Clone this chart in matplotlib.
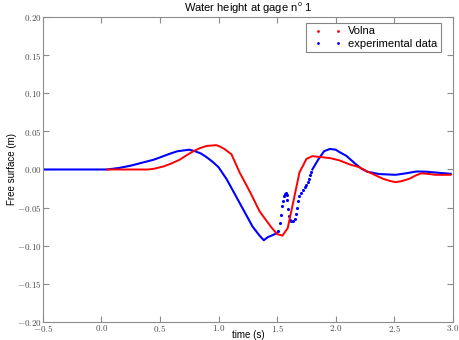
import matplotlib
matplotlib.use("Agg")
import matplotlib.pyplot as plt
from matplotlib.lines import Line2D
from matplotlib.legend_handler import HandlerLine2D
from matplotlib.ticker import FuncFormatter

plt.rcParams['font.family'] = ['Liberation Sans', 'DejaVu Sans']
plt.rcParams['mathtext.fontset'] = 'cm'

# Volna model (red)
volna_t = [0.05, 0.40, 0.45, 0.53, 0.60, 0.67, 0.73, 0.785, 0.84, 0.90, 0.98, 1.00, 1.05, 1.11,
           1.18, 1.27, 1.35, 1.45, 1.50, 1.545, 1.59, 1.63, 1.69, 1.75, 1.80, 1.95, 2.03, 2.12,
           2.20, 2.26, 2.33, 2.40, 2.46, 2.51, 2.57, 2.63, 2.68, 2.73, 2.80, 2.85, 2.98]
volna_h = [0.0, 0.0, 0.001, 0.004, 0.008, 0.013, 0.019, 0.024, 0.028, 0.031, 0.032, 0.031, 0.027, 0.020,
           -0.004, -0.030, -0.055, -0.076, -0.085, -0.087, -0.077, -0.048, -0.004, 0.014, 0.0175, 0.015, 0.012, 0.0066,
           0.003, -0.002, -0.007, -0.012, -0.015, -0.0167, -0.015, -0.012, -0.008, -0.005, -0.006, -0.007, -0.007]

# experimental data (blue), smooth parts
exp_t1 = [-0.5, 0.05, 0.15, 0.25, 0.35, 0.45, 0.52, 0.59, 0.65, 0.70, 0.75, 0.80, 0.85, 0.90,
          0.95, 1.00, 1.07, 1.18, 1.29, 1.35, 1.386, 1.42, 1.48, 1.50]
exp_h1 = [0.0, 0.0, 0.002, 0.005, 0.009, 0.013, 0.017, 0.021, 0.024, 0.025, 0.026, 0.024, 0.021, 0.016,
          0.010, 0.003, -0.013, -0.044, -0.075, -0.087, -0.093, -0.089, -0.085, -0.083]
exp_t2 = [1.80, 1.85, 1.90, 1.95, 2.00, 2.03, 2.09, 2.17, 2.22, 2.27, 2.37, 2.51, 2.60, 2.69,
          2.78, 2.85, 2.98]
exp_h2 = [0.0, 0.013, 0.024, 0.027, 0.026, 0.023, 0.018, 0.007, 0.001, -0.003, -0.006, -0.007, -0.005, -0.0026,
          -0.003, -0.004, -0.0057]
# experimental data, fast-varying part (sparse samples)
exp_t3 = [1.51, 1.52, 1.53, 1.54, 1.548, 1.556, 1.565, 1.573, 1.58, 1.587, 1.594, 1.60,
          1.61, 1.62, 1.635, 1.65, 1.66, 1.67, 1.68, 1.69, 1.70, 1.72, 1.74, 1.75,
          1.76, 1.77, 1.78, 1.79]
exp_h3 = [-0.081, -0.070, -0.060, -0.048, -0.041, -0.035, -0.032, -0.031, -0.033, -0.040, -0.052, -0.061,
          -0.067, -0.068, -0.068, -0.065, -0.058, -0.050, -0.042, -0.035, -0.031, -0.027, -0.023, -0.021,
          -0.017, -0.012, -0.007, -0.003]

fig = plt.figure(figsize=(4.59, 3.4), dpi=100)
ax = fig.add_axes([0.093, 0.054, 0.894, 0.895])

ax.plot(exp_t1, exp_h1, color='b', lw=1.5)
ax.plot(exp_t2, exp_h2, color='b', lw=1.5)
ax.plot(exp_t3, exp_h3, color='b', ls='none', marker='.', ms=2.5)
ax.plot(volna_t, volna_h, color='r', lw=1.4)

ax.set_xlim(-0.5, 3.0)
ax.set_ylim(-0.2, 0.2)
ax.set_xticks([-0.5, 0.0, 0.5, 1.0, 1.5, 2.0, 2.5, 3.0])
ax.set_yticks([-0.2, -0.15, -0.1, -0.05, 0.0, 0.05, 0.1, 0.15, 0.2])
ax.xaxis.set_major_formatter(FuncFormatter(lambda v, p: '$%.1f$' % v))
ax.yaxis.set_major_formatter(FuncFormatter(lambda v, p: '$%.2f$' % v))
ax.tick_params(direction='in', top=True, right=True, length=4, color='0.55',
               labelsize=6.5, labelcolor='0.3', pad=1)
for s in ax.spines.values():
    s.set_color('0.55')

ax.set_title(r'Water height at gage n$^\mathsf{o}$ 1', fontsize=8, pad=4)
ax.set_xlabel('time (s)', fontsize=7)
ax.set_ylabel('Free surface (m)', fontsize=7)
ax.xaxis.set_label_coords(0.5, -0.029)
ax.yaxis.set_label_coords(-0.063, 0.5)

handles = [Line2D([], [], color='r', ls='none', marker='.', ms=2, label='Volna'),
           Line2D([], [], color='b', ls='none', marker='.', ms=2, label='experimental data')]
leg = ax.legend(handles=handles, loc='upper right', bbox_to_anchor=(0.97, 0.981),
                borderaxespad=0, numpoints=2, fontsize=8, fancybox=False, edgecolor='0.4',
                handlelength=3.4, handletextpad=0.1, labelspacing=0.2, borderpad=0.3,
                handler_map={Line2D: HandlerLine2D(marker_pad=0.8)})
leg.get_frame().set_linewidth(0.8)

fig.savefig('out.png', dpi=100)
